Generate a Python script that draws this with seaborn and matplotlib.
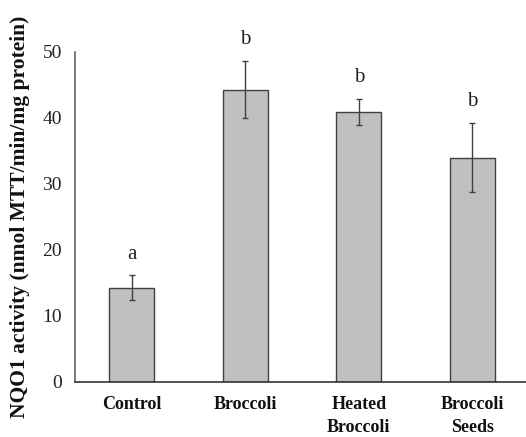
import matplotlib
matplotlib.use("Agg")
import matplotlib.pyplot as plt
import seaborn as sns
import numpy as np

categories = ["Control", "Broccoli", "Heated\nBroccoli", "Broccoli\nSeeds"]
values = [14.3, 44.3, 40.9, 34.0]
errors = [1.85, 4.3, 2.0, 5.2]
letters = ["a", "b", "b", "b"]
yticks = [0, 10, 20, 30, 40, 50]

sns.set_style("white")
plt.rcParams["font.family"] = ["Liberation Serif", "DejaVu Serif"]

fig = plt.figure(figsize=(5.26, 4.37), dpi=100)
ax = fig.add_axes([75/526, 55/437, 454/526, 330/437])

sns.barplot(x=categories, y=values, color="#c0c0c0", edgecolor="#404040",
            linewidth=1.0, width=0.4, saturation=1, ax=ax)
pos = np.arange(len(categories))
ax.errorbar(pos, values, yerr=errors, fmt="none", ecolor="#404040",
            elinewidth=1.0, capsize=2.5, capthick=1.0)
for p, v, e, l in zip(pos, values, errors, letters):
    ax.text(p, v + e + 1.8, l, ha="center", va="bottom", fontsize=15,
            color="#222222", clip_on=False)

ax.set_xlim(-0.5, 3.5)
ax.set_ylim(0, 50)
ax.set_yticks(yticks)
ax.set_yticklabels([str(t) for t in yticks], fontsize=14, color="#222222")
ax.tick_params(axis="y", direction="in", length=3, width=1, color="#555555", pad=9.5)
ax.set_xticks(pos)
ax.set_xticklabels(categories, fontsize=13, fontweight="bold", color="#111111",
                   linespacing=1.45)
ax.tick_params(axis="x", length=0, pad=10)
ax.set_xticks([0.5, 1.5, 2.5], minor=True)
ax.tick_params(axis="x", which="minor", direction="in", length=3, width=1, color="#555555")
for lab in ax.get_xticklabels():
    lab.set_verticalalignment("top")

ax.set_ylabel("NQO1 activity (nmol MTT/min/mg protein)", fontsize=15.5,
              fontweight="bold", color="#111111", labelpad=9)

for s in ["top", "right"]:
    ax.spines[s].set_visible(False)
ax.spines["left"].set_color("#666666")
ax.spines["left"].set_linewidth(1.2)
ax.spines["bottom"].set_color("#333333")
ax.spines["bottom"].set_linewidth(1.2)

fig.savefig("out.png", dpi=100)
